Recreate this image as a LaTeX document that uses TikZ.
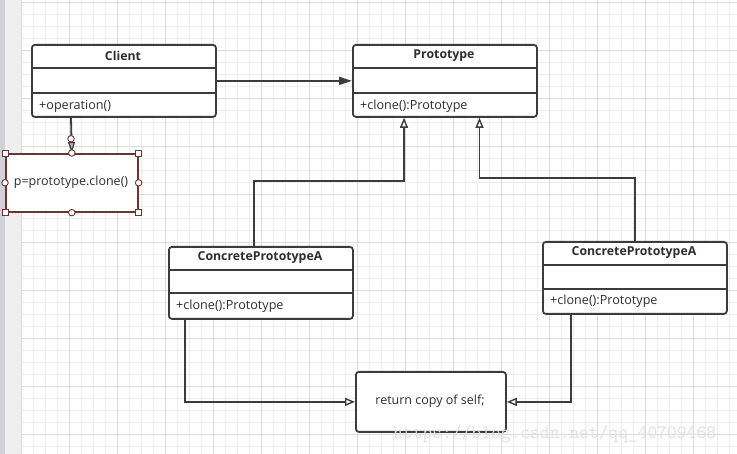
\documentclass[tikz,border=0pt]{standalone}
\usepackage{fontspec}
\setmainfont{Open Sans}
\usetikzlibrary{arrows.meta}
\definecolor{bord}{HTML}{3C3C3C}
\definecolor{txt}{HTML}{2E2E2E}
\definecolor{gridl}{HTML}{EEEEEE}
\definecolor{gridd}{HTML}{DCDCDC}
\definecolor{panelA}{HTML}{D2D2D6}
\definecolor{panelB}{HTML}{EFEFEF}
\definecolor{selc}{HTML}{6E3434}
\begin{document}
\begin{tikzpicture}[x=1pt,y=-1pt,
  cls/.style={draw=bord, line width=1.8pt, rounded corners=3pt, fill=white, inner sep=0pt,
    minimum width=184pt, minimum height=72pt, anchor=north west},
  divider/.style={draw=bord, line width=1.6pt},
  ctitle/.style={text=txt, font=\bfseries\fontsize{12.3}{14}\selectfont, inner sep=0pt},
  meth/.style={text=txt, font=\fontsize{12.6}{14}\selectfont, inner sep=0pt, anchor=west},
  note/.style={text=txt, font=\fontsize{12.5}{14}\selectfont, inner sep=0pt},
  conn/.style={draw=bord, line width=1.8pt},
  inh/.style={conn, -{Triangle[open, length=10pt, width=8pt, line width=1.4pt, fill=white]}},
  assoc/.style={conn, -{Triangle[length=13pt, width=8pt]}},
  selbox/.style={draw=selc, line width=1.6pt, fill=white, inner sep=0pt, anchor=north west},
  hsq/.style={draw=selc, fill=white, line width=0.9pt, minimum size=6pt, inner sep=0pt},
  hci/.style={draw=selc, fill=white, line width=0.9pt, circle, minimum size=6.5pt, inner sep=0pt},
  wm/.style={text=black!12, font=\ttfamily\fontsize{19}{19}\selectfont, inner sep=0pt, anchor=west}
]
\useasboundingbox (0,0) rectangle (737,454);
\fill[white] (0,0) rectangle (737,454);
% background grid
\foreach \i in {0,...,59} \draw[gridl, line width=1pt] ({21.5+12*\i},0) -- ({21.5+12*\i},454);
\foreach \j in {0,...,37} \draw[gridl, line width=1pt] (21.5,{3+12*\j}) -- (737,{3+12*\j});
\foreach \i in {0,4,...,56} \draw[gridd, line width=1pt] ({21.5+12*\i},0) -- ({21.5+12*\i},454);
\foreach \j in {0,4,...,36} \draw[gridd, line width=1pt] (21.5,{3+12*\j}) -- (737,{3+12*\j});
% left panel
\fill[panelA] (0,0) rectangle (5,454);
\fill[panelB] (5,0) rectangle (21,454);

% Client
\node[cls] (client) at (31,44) {};
\draw[divider] (31,68) -- (215,68);
\draw[divider] (31,93) -- (215,93);
\node[ctitle] (clientT) at (123,56) {Client};
\node[meth] (clientM) at (39,106) {+operation()};

% Prototype
\node[cls] (proto) at (352,44) {};
\draw[divider] (352,68) -- (536,68);
\draw[divider] (352,93) -- (536,93);
\node[ctitle] (protoT) at (444,56) {Prototype};
\node[meth] (protoM) at (360,106) {+clone():Prototype};

% ConcretePrototypeA (left)
\node[cls] (cpaL) at (168,246) {};
\draw[divider] (168,270) -- (352,270);
\draw[divider] (168,293) -- (352,293);
\node[ctitle] (cpaLT) at (260,258) {ConcretePrototypeA};
\node[meth] (cpaLM) at (176,306) {+clone():Prototype};

% ConcretePrototypeA (right)
\node[cls] (cpaR) at (542,241) {};
\draw[divider] (542,265) -- (726,265);
\draw[divider] (542,289) -- (726,289);
\node[ctitle] (cpaRT) at (634,253) {ConcretePrototypeA};
\node[meth] (cpaRM) at (550,301) {+clone():Prototype};

% return box
\node[draw=bord, line width=1.8pt, rounded corners=3pt, fill=white, inner sep=0pt,
  minimum width=150pt, minimum height=60pt, anchor=north west] (ret) at (355,371) {};
\node[note] (retT) at (430,401) {return copy of self;};

% connectors
\draw[assoc] (client.east) -- (proto.west);
\coordinate (jL) at (404,181);
\coordinate (jR) at (479.5,178);
\draw[inh] ([xshift=-7pt]cpaL.north) |- (jL) -- (jL |- proto.south);
\draw[inh] (cpaR.north) |- (jR) -- (jR |- proto.south);
\draw[inh] ([xshift=17pt]cpaL.south west) |- (ret.west);
\draw[inh] ([xshift=29pt]cpaR.south west) |- (ret.east);

% selected note box
\node[selbox, minimum width=132pt, minimum height=58pt] (sel) at (5,153) {};
\node[note] (selT) at (71,182.5) {p=prototype.clone()};
\draw[conn, -{Triangle[open, length=11pt, width=7pt, line width=1.2pt, fill=gray!60]}] ([xshift=40pt]client.south west) -- (sel.north);
\node[hci] (hc0) at ([shift={(40,21)}]client.south west) {};
\foreach \a/\n in {north west/1, north east/2, south west/3, south east/4}
  \node[hsq] (hs\n) at (sel.\a) {};
\foreach \a/\n in {north/1, south/2, west/3, east/4}
  \node[hci] (hm\n) at (sel.\a) {};

% watermark
\node[wm] (wm) at (393,434) {https://blog.csdn.net/qq\_40709468};
\end{tikzpicture}
\end{document}
